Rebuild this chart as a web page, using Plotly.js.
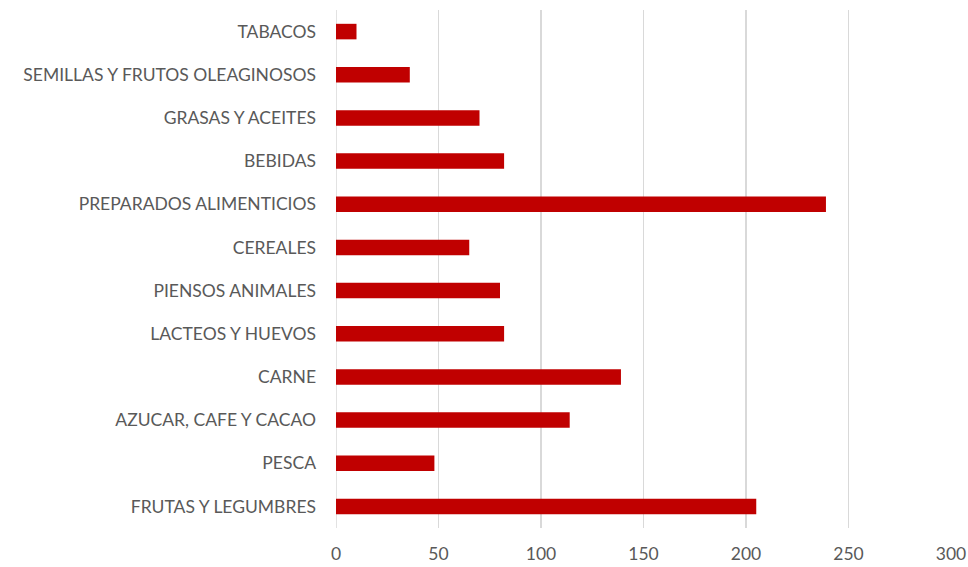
<!DOCTYPE html>
<html>
<head>
<meta charset="utf-8">
<script src="https://cdn.plot.ly/plotly-3.0.1.min.js"></script>
<style>html,body{margin:0;padding:0;background:#fff;}#chart{width:968px;height:567px;}</style>
</head>
<body>
<div id="chart"></div>
<script>
const categories = [
  "FRUTAS Y LEGUMBRES",
  "PESCA",
  "AZUCAR, CAFE Y CACAO",
  "CARNE",
  "LACTEOS Y HUEVOS",
  "PIENSOS ANIMALES",
  "CEREALES",
  "PREPARADOS ALIMENTICIOS",
  "BEBIDAS",
  "GRASAS Y ACEITES",
  "SEMILLAS Y FRUTOS OLEAGINOSOS",
  "TABACOS"
];
const values = [205, 48, 114, 139, 82, 80, 65, 239, 82, 70, 36, 10];
const xTicks = [0, 50, 100, 150, 200, 250, 300];

const trace = {
  type: 'bar',
  orientation: 'h',
  y: categories,
  x: values,
  marker: {color: '#c00000'},
  hoverinfo: 'x+y'
};

const layout = {
  width: 968,
  height: 567,
  margin: {l: 336, r: 17, t: 10, b: 39},
  paper_bgcolor: '#ffffff',
  plot_bgcolor: '#ffffff',
  bargap: 0.64,
  showlegend: false,
  font: {family: 'Lato, "Open Sans", sans-serif', size: 17.5, color: '#595959'},
  xaxis: {
    range: [0, 300],
    tickvals: xTicks,
    ticktext: xTicks.map(String),
    showgrid: true,
    gridcolor: '#d9d9d9',
    gridwidth: 1.5,
    zeroline: false,
    showline: false,
    ticks: '',
    ticklabelstandoff: 13,
    tickfont: {size: 17.5, color: '#595959'},
    fixedrange: true
  },
  yaxis: {
    type: 'category',
    categoryorder: 'array',
    categoryarray: categories,
    showgrid: false,
    zeroline: false,
    showline: false,
    ticks: '',
    ticklabelstandoff: 19,
    tickfont: {size: 17.5, color: '#595959'},
    fixedrange: true
  },
  shapes: [{
    type: 'line', xref: 'x', yref: 'paper', x0: 0, x1: 0, y0: 0, y1: 1,
    line: {color: '#d9d9d9', width: 1.5}, layer: 'below'
  }]
};

Plotly.newPlot('chart', [trace], layout, {displayModeBar: false, staticPlot: true});
</script>
</body>
</html>
